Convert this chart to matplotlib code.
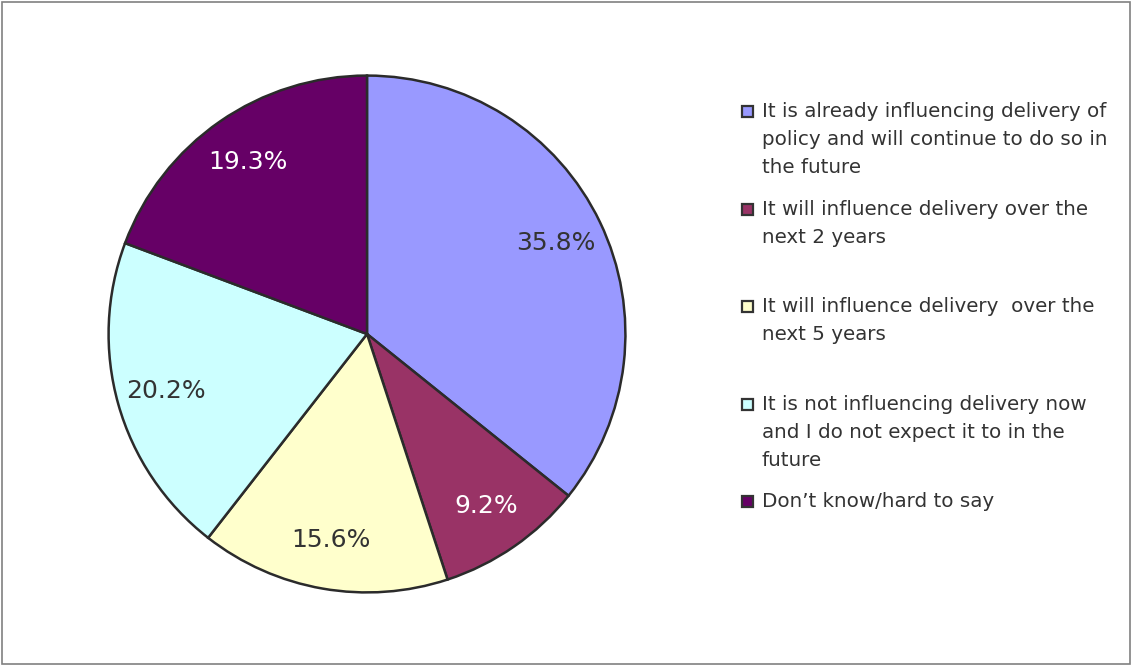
import matplotlib

matplotlib.use("Agg")
import matplotlib.pyplot as plt
from matplotlib.patches import Rectangle

# Survey answers, clockwise from 12 o'clock
LABELS = [
    "It is already influencing delivery of\npolicy and will continue to do so in\nthe future",
    "It will influence delivery over the\nnext 2 years",
    "It will influence delivery  over the\nnext 5 years",
    "It is not influencing delivery now\nand I do not expect it to in the\nfuture",
    "Don\u2019t know/hard to say",
]
SHARES = [35.8, 9.2, 15.6, 20.2, 19.3]
COLORS = ["#9999FF", "#993366", "#FFFFCC", "#CCFFFF", "#660066"]
PCT_COLORS = ["#333333", "white", "#333333", "#333333", "white"]

W, H = 1131, 665
fig = plt.figure(figsize=(W / 100, H / 100), dpi=100)
plt.rcParams["font.family"] = "DejaVu Sans"

# outer frame
fig.add_artist(Rectangle((1.5 / W, 1.5 / H), (W - 3) / W, (H - 3) / H,
                         transform=fig.transFigure, fill=False,
                         edgecolor="#808080", linewidth=1.2))

# pie: centre (367, 334) px, radius 261 px
cx, cy, r = 367, 334, 261
ax = fig.add_axes([(cx - r) / W, (H - cy - r) / H, 2 * r / W, 2 * r / H])
wedges, texts, pcts = ax.pie(
    SHARES, colors=COLORS, startangle=90, counterclock=False,
    autopct="%.1f%%", pctdistance=0.81,
    wedgeprops=dict(edgecolor="#2b2b2b", linewidth=1.8),
    textprops=dict(fontsize=18),
)
for t, c in zip(pcts, PCT_COLORS):
    t.set_color(c)
ax.set_xlim(-1.01, 1.01)
ax.set_ylim(-1.01, 1.01)
ax.set_aspect("equal")

# legend, laid out by hand (Excel-style even pitch)
top0, pitch = 102, 97.5
for i, (lab, col) in enumerate(zip(LABELS, COLORS)):
    ytop = top0 + i * pitch
    fig.add_artist(Rectangle((742 / W, 1 - (ytop + 15) / H), 11 / W, 11 / H,
                             transform=fig.transFigure, facecolor=col,
                             edgecolor="#333333", linewidth=1.6))
    fig.text(762 / W, 1 - ytop / H, lab, ha="left", va="top",
             fontsize=14.3, color="#333333", linespacing=1.6)

fig.savefig("out.png", dpi=100)
